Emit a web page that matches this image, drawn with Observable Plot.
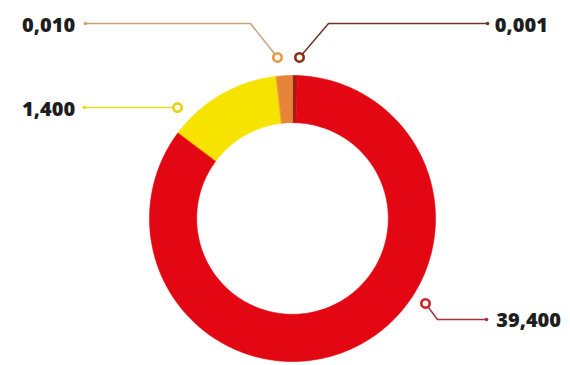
<!DOCTYPE html>
<html><head><meta charset="utf-8">
<script src="https://cdn.jsdelivr.net/npm/d3@7"></script>
<script src="https://cdn.jsdelivr.net/npm/@observablehq/plot@0.6"></script>
<style>html,body{margin:0;padding:0;background:#fff;}</style>
</head><body><div id="chart"></div>
<script>
// ---- data (clockwise from 12 o'clock) ----
const labels = ["0,001", "39,400", "1,400", "0,010"];
const values = [0.001, 39.4, 1.4, 0.01];
const arcDegrees = [2, 305, 46.5, 6.5]; // slice extents as drawn in the reference
const sliceColors = ["#a41e10", "#e30613", "#f7e300", "#e8843a"];
const leaderColors = ["#6e3727", "#a3303a", "#e6da1c", "#caa27c"];
const ringColors = ["#8c2a14", "#c8262e", "#e2d610", "#e39a48"];

// ---- layout (radius units: outer radius = 1) ----
const R_OUT = 1, R_IN = 0.67;
const callouts = [
  {anchor: [0.049, 1.126], elbow: [0.252, 1.364], end: [1.364, 1.364], text: [1.415, 1.35], side: "start"},
  {anchor: [0.930, -0.594], elbow: [1.014, -0.706], end: [1.357, -0.706], text: [1.425, -0.717], side: "start"},
  {anchor: [-0.804, 0.776], elbow: null, end: [-1.455, 0.776], text: [-1.52, 0.762], side: "end"},
  {anchor: [-0.105, 1.126], elbow: [-0.294, 1.364], end: [-1.448, 1.364], text: [-1.52, 1.35], side: "end"}
];

// slices as polygons
const slices = [];
let acc = 0;
labels.forEach((lab, i) => {
  const a0 = acc, a1 = acc + arcDegrees[i];
  acc = a1;
  const n = Math.max(2, Math.ceil(arcDegrees[i]));
  const pts = [];
  for (let k = 0; k <= n; k++) {
    const t = (a0 + (a1 - a0) * k / n) * Math.PI / 180;
    pts.push({i, x: R_OUT * Math.sin(t), y: R_OUT * Math.cos(t)});
  }
  for (let k = n; k >= 0; k--) {
    const t = (a0 + (a1 - a0) * k / n) * Math.PI / 180;
    pts.push({i, x: R_IN * Math.sin(t), y: R_IN * Math.cos(t)});
  }
  slices.push(...pts);
});

const leaders = [];
callouts.forEach((c, i) => {
  leaders.push({i, x: c.anchor[0], y: c.anchor[1]});
  if (c.elbow) leaders.push({i, x: c.elbow[0], y: c.elbow[1]});
  leaders.push({i, x: c.end[0], y: c.end[1]});
});
const anchors = callouts.map((c, i) => ({i, x: c.anchor[0], y: c.anchor[1]}));
const ends = callouts.map((c, i) => ({i, x: c.end[0], y: c.end[1]}));
const texts = callouts.map((c, i) => ({i, x: c.text[0], y: c.text[1], label: labels[i], side: c.side}));

const W = 570, H = 365, CX = 292, CY = 218, RPX = 143;
const chart = Plot.plot({
  width: W, height: H,
  margin: 0,
  x: {domain: [-CX / RPX, (W - CX) / RPX], range: [0, W], axis: null},
  y: {domain: [-(H - CY) / RPX, CY / RPX], range: [H, 0], axis: null},
  style: {background: "#fff"},
  marks: [
    Plot.line(slices, {x: "x", y: "y", z: "i", fill: d => sliceColors[d.i], stroke: d => sliceColors[d.i], strokeWidth: 0.6, curve: "linear-closed"}),
    Plot.line(leaders, {x: "x", y: "y", z: "i", stroke: d => leaderColors[d.i], strokeWidth: 1.5}),
    Plot.dot(ends, {x: "x", y: "y", r: 1.8, fill: d => leaderColors[d.i], stroke: "none"}),
    Plot.dot(anchors, {x: "x", y: "y", r: 4.2, fill: "#fff8ee", stroke: d => ringColors[d.i], strokeWidth: 2.6}),
    Plot.text(texts.filter(d => d.side === "end"), {x: "x", y: "y", text: "label", textAnchor: "end", fill: "#1e1e1e", fontSize: 20, fontWeight: 800, fontFamily: "Open Sans"}),
    Plot.text(texts.filter(d => d.side === "start"), {x: "x", y: "y", text: "label", textAnchor: "start", fill: "#1e1e1e", fontSize: 20, fontWeight: 800, fontFamily: "Open Sans"})
  ]
});
document.getElementById("chart").appendChild(chart);
</script>
</body></html>
